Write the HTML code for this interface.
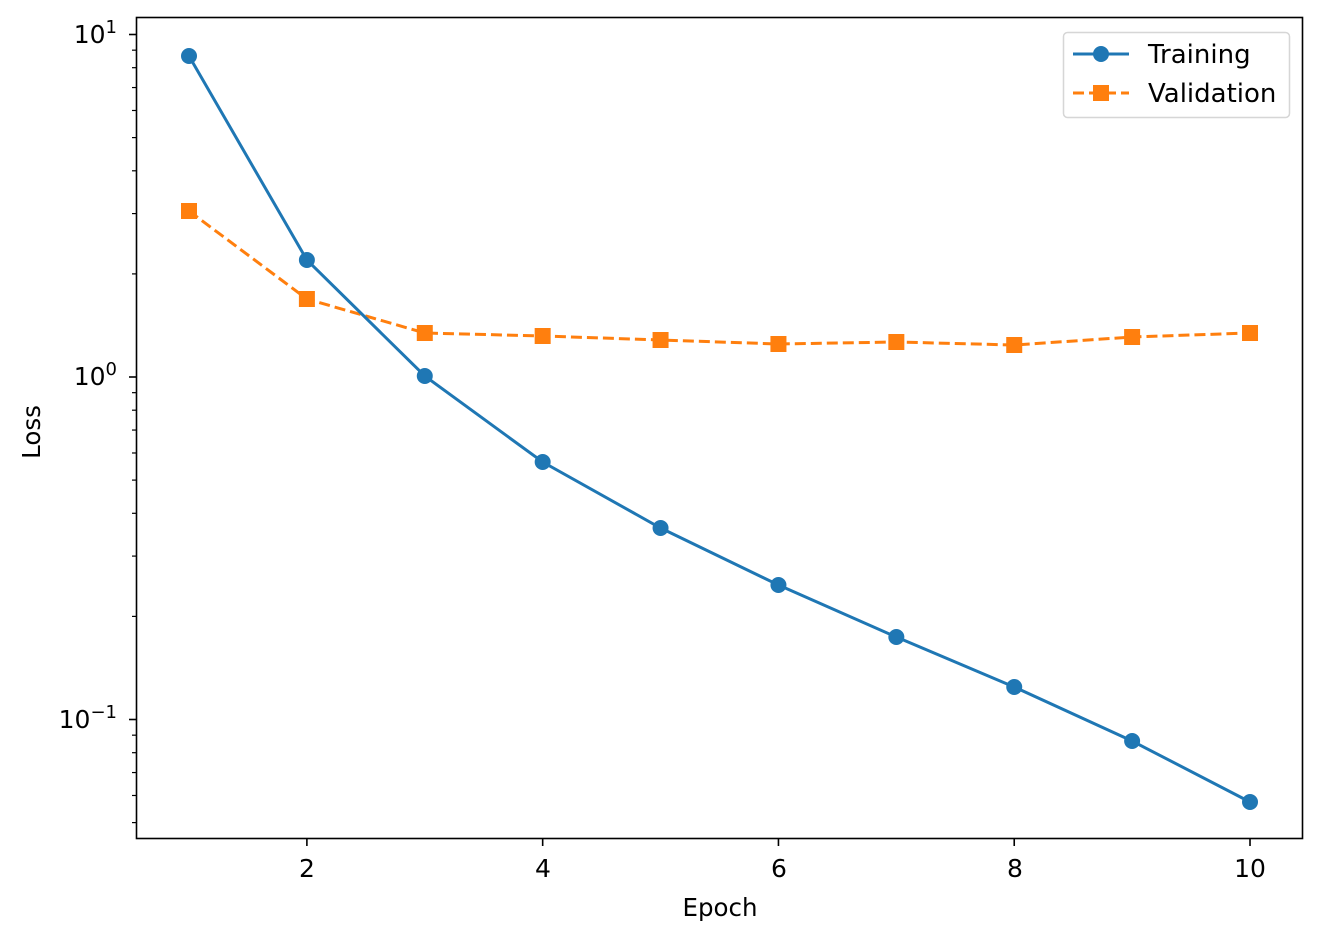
<!DOCTYPE html>
<html><head><meta charset="utf-8"><style>
html,body{margin:0;padding:0;background:#fff;}
svg text{font-family:"DejaVu Sans","Liberation Sans",sans-serif;fill:#000;}
</style></head><body>
<svg id="s" width="1322" height="940" viewBox="0 0 1322 940" xmlns="http://www.w3.org/2000/svg">
<rect width="1322" height="940" fill="#fff"/>
<g id="g"></g>
<rect x="136.5" y="17.5" width="1166" height="821" fill="none" stroke="#000" stroke-width="1.6"/>
<text x="720" y="916" font-size="24.5" text-anchor="middle">Epoch</text>
<text transform="translate(40,432) rotate(-90)" font-size="24.5" text-anchor="middle">Loss</text>
<text x="117" y="43" font-size="25" text-anchor="end">10<tspan font-size="18" dy="-10">1</tspan></text>
<text x="117" y="385" font-size="25" text-anchor="end">10<tspan font-size="18" dy="-10">0</tspan></text>
<text x="117" y="728" font-size="25" text-anchor="end">10<tspan font-size="18" dy="-10">−1</tspan></text>
<g font-size="25" text-anchor="middle">
<text x="307" y="877">2</text><text x="543" y="877">4</text><text x="779" y="877">6</text><text x="1015" y="877">8</text><text x="1250" y="877">10</text>
</g>
<rect x="1063.5" y="32.5" width="226" height="85" rx="4" fill="#fff" stroke="#d6d6d6" stroke-width="1.5"/>
<line x1="1073" y1="54" x2="1129" y2="54" stroke="#1f77b4" stroke-width="3"/>
<circle cx="1101" cy="54" r="8" fill="#1f77b4"/>
<line x1="1073" y1="93" x2="1129" y2="93" stroke="#ff7f0e" stroke-width="3" stroke-dasharray="11,5"/>
<rect x="1093" y="85" width="16" height="16" fill="#ff7f0e"/>
<text x="1148" y="63" font-size="26">Training</text>
<text x="1148" y="102" font-size="26">Validation</text>
</svg>
<script>
var g=document.getElementById('g'),h='';
function Y(v){return 377-342.5*Math.log10(v);}
function X(e){return 189+(e-1)*117.89;}
[10,1,0.1].forEach(function(v){var y=Y(v);h+='<line x1="129" x2="136.5" y1="'+y+'" y2="'+y+'" stroke="#000" stroke-width="1.6"/>';});
[0.01,0.1,1].forEach(function(d){for(var k=2;k<=9;k++){var y=Y(k*d);if(y>18&&y<838)h+='<line x1="132" x2="136.5" y1="'+y+'" y2="'+y+'" stroke="#000" stroke-width="1.2"/>';}});
[2,4,6,8,10].forEach(function(e){var x=X(e);h+='<line x1="'+x+'" x2="'+x+'" y1="838.5" y2="846" stroke="#000" stroke-width="1.6"/>';});
var ty=[56,260,376,462,528,585,637,687,741,802],vy=[211,299,333,336,340,344,342,345,337,333];
var p1=ty.map(function(y,i){return X(i+1)+','+y;}).join(' ');
var p2=vy.map(function(y,i){return X(i+1)+','+y;}).join(' ');
h+='<polyline points="'+p2+'" fill="none" stroke="#ff7f0e" stroke-width="3" stroke-dasharray="11,5"/>';
vy.forEach(function(y,i){h+='<rect x="'+(X(i+1)-8)+'" y="'+(y-8)+'" width="16" height="16" fill="#ff7f0e"/>';});
h+='<polyline points="'+p1+'" fill="none" stroke="#1f77b4" stroke-width="3"/>';
ty.forEach(function(y,i){h+='<circle cx="'+X(i+1)+'" cy="'+y+'" r="8" fill="#1f77b4"/>';});
g.innerHTML=h;
</script>
</body></html>
